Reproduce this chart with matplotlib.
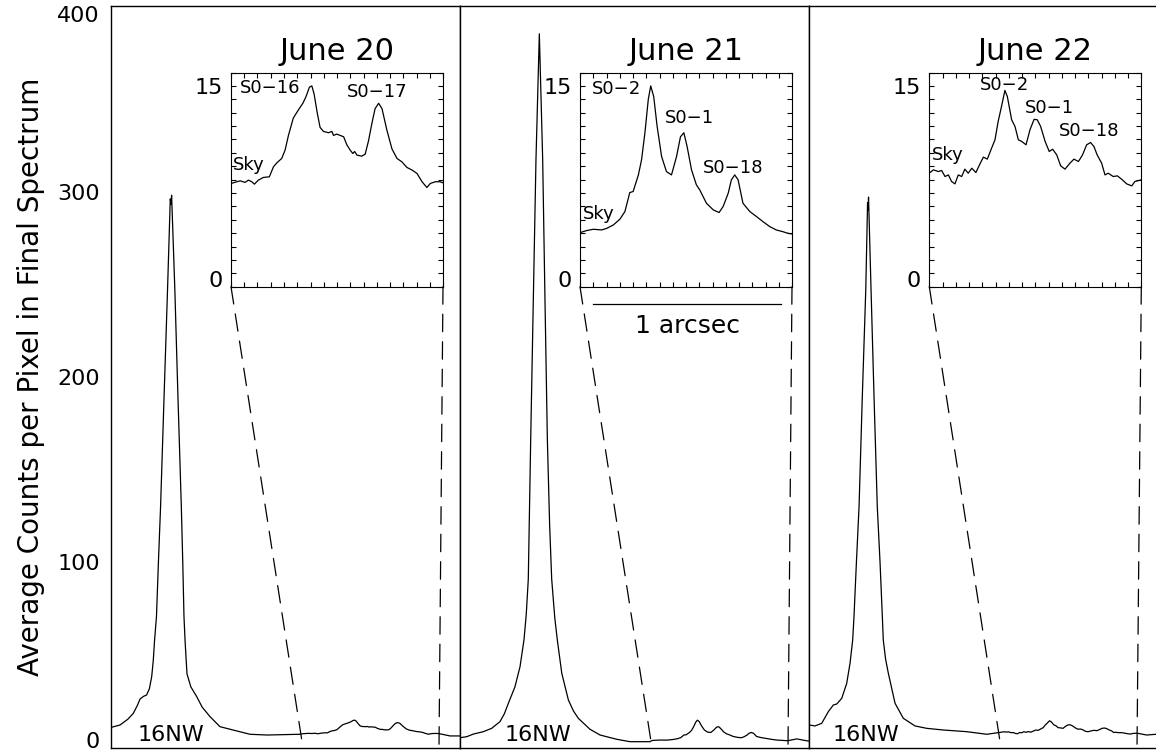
import numpy as np
import matplotlib.pyplot as plt
from matplotlib.patches import ConnectionPatch
from matplotlib.ticker import MultipleLocator

# Slit profiles along the 16NW direction, three nights (x in arcsec, counts per pixel)
nights = ['June 20', 'June 21', 'June 22']

# June 20
core_x_20 = [0.006, 0.075, 0.140, 0.186, 0.220, 0.242, 0.270, 0.297, 0.320, 0.339, 0.352,
             0.363, 0.379, 0.395, 0.413, 0.442, 0.471, 0.494, 0.500, 0.505, 0.532, 0.558,
             0.586, 0.598, 0.608, 0.617, 0.625, 0.633, 0.665, 0.714, 0.760, 0.825, 0.908,
             1.017, 1.158, 1.300, 1.575]
core_y_20 = [11.2, 12.4, 15.5, 18.7, 23.0, 26.4, 27.8, 28.6, 32.0, 38.4, 47.0,
             58, 71, 100, 130, 189, 247, 296, 293, 298, 247, 189,
             130, 100, 71, 58, 49, 40, 33, 27.7, 22.0, 16.9, 11.5,
             9.7, 7.4, 7.0, 7.4]
win_x_20 = [1.600, 1.649, 1.675, 1.693, 1.711, 1.725, 1.746, 1.773, 1.805, 1.827, 1.845,
            1.871, 1.889, 1.907, 1.933, 1.960, 1.984, 2.001, 2.019, 2.032, 2.044, 2.062,
            2.076, 2.094, 2.121, 2.139, 2.148, 2.165, 2.202, 2.219, 2.237, 2.251, 2.261,
            2.273, 2.299, 2.317, 2.335, 2.353, 2.370, 2.389, 2.407, 2.433, 2.460, 2.487,
            2.513, 2.540, 2.568, 2.594, 2.621, 2.647, 2.665, 2.692, 2.718, 2.733]
win_y_20 = [7.71, 7.91, 7.79, 7.96, 7.84, 7.66, 7.96, 8.16, 8.21, 8.96, 9.25,
            9.58, 10.2, 11.3, 12.6, 13.2, 13.7, 14.2, 14.9, 15.0, 14.4, 12.9,
            11.9, 11.6, 11.5, 11.6, 11.3, 11.4, 11.2, 10.6, 10.2, 9.95, 10.1,
            9.83, 9.75, 9.9, 10.9, 12.2, 13.3, 13.7, 13.3, 11.7, 10.3, 9.58,
            9.33, 8.91, 8.71, 8.46, 7.84, 7.41, 7.71, 7.84, 7.84, 7.76]
tail_x_20 = [2.825, 2.908]
tail_y_20 = [6.5, 6.5]

# June 21
core_x_21 = [0.006, 0.056, 0.111, 0.194, 0.264, 0.333, 0.370, 0.403, 0.458, 0.500, 0.533,
             0.552, 0.569, 0.589, 0.611, 0.633, 0.661, 0.689, 0.708, 0.728, 0.747, 0.764,
             0.790, 0.811, 0.848, 0.903, 0.945, 0.986, 1.083, 1.167, 1.306, 1.417, 1.583]
core_y_21 = [5.6, 6.1, 7.5, 8.8, 10.6, 14.2, 18.5, 24.1, 33, 43.8, 58.2,
             72, 91, 166, 242, 317, 385, 317, 242, 166, 120, 91,
             70, 58.2, 40.3, 25.9, 20.0, 16, 10.1, 7.0, 4.7, 3.4, 3.4]
win_x_21 = [1.600, 1.635, 1.671, 1.716, 1.743, 1.778, 1.813, 1.840, 1.866, 1.884, 1.912,
            1.929, 1.947, 1.965, 1.978, 1.994, 2.012, 2.036, 2.062, 2.089, 2.116, 2.137,
            2.155, 2.172, 2.196, 2.222, 2.240, 2.276, 2.312, 2.343, 2.365, 2.392, 2.409,
            2.427, 2.445, 2.471, 2.508, 2.543, 2.578, 2.614, 2.649, 2.684, 2.711, 2.733]
win_y_21 = [4.04, 4.19, 4.29, 4.24, 4.36, 4.61, 5.04, 5.61, 7.03, 7.11, 8.35,
            9.48, 11.5, 14.0, 15.0, 14.2, 12.0, 9.73, 8.6, 8.35, 9.73, 11.2,
            11.5, 10.5, 8.73, 7.61, 7.23, 6.23, 5.74, 5.54, 5.99, 6.98, 7.98,
            8.35, 7.98, 6.23, 5.61, 5.24, 4.86, 4.49, 4.24, 4.11, 3.99, 3.94]
tail_x_21 = [2.806, 2.889, 2.908]
tail_y_21 = [4.9, 3.9, 3.7]

# June 22
core_x_22 = [0.0, 0.050, 0.106, 0.161, 0.203, 0.231, 0.273, 0.314, 0.342, 0.364, 0.375,
             0.395, 0.417, 0.444, 0.473, 0.488, 0.492, 0.496, 0.517, 0.542, 0.569, 0.592,
             0.611, 0.619, 0.638, 0.661, 0.717, 0.786, 0.883, 0.981, 1.119, 1.314, 1.481]
core_y_22 = [12.4, 11.9, 13.3, 19.6, 23.2, 23.7, 26.8, 34.8, 45.7, 58.2, 71,
             100, 130, 189, 247, 294, 290, 297, 247, 189, 130, 100,
             71, 58.2, 48, 40.3, 24.1, 16, 11.9, 10.6, 9.7, 8.8, 7.4]
win_x_22 = [1.600, 1.622, 1.648, 1.666, 1.684, 1.702, 1.719, 1.737, 1.755, 1.773, 1.790,
            1.808, 1.827, 1.849, 1.871, 1.889, 1.910, 1.933, 1.951, 1.968, 1.986, 2.004,
            2.017, 2.040, 2.058, 2.076, 2.094, 2.117, 2.138, 2.160, 2.177, 2.195, 2.219,
            2.241, 2.259, 2.281, 2.302, 2.325, 2.352, 2.373, 2.397, 2.419, 2.441, 2.462,
            2.480, 2.497, 2.521, 2.539, 2.556, 2.583, 2.605, 2.628, 2.655, 2.682, 2.699,
            2.733]
win_y_22 = [8.48, 8.73, 8.6, 8.68, 8.23, 8.35, 7.86, 7.68, 8.35, 8.23, 8.78,
            8.48, 8.85, 8.53, 9.18, 9.68, 9.53, 10.35, 10.97, 12.34, 13.47, 14.66,
            14.21, 12.47, 11.97, 10.97, 10.85, 10.6, 11.72, 12.5, 12.47, 11.97, 10.85,
            10.1, 10.27, 9.85, 9.03, 8.78, 9.23, 9.53, 9.35, 9.85, 10.6, 10.77,
            10.47, 9.85, 9.23, 8.35, 8.48, 8.23, 8.28, 8.03, 7.68, 7.53, 7.86,
            7.98]
tail_x_22 = [2.814, 2.892]
tail_y_22 = [7.0, 7.4]

# Star labels inside each zoom window: (text, x, y)
labels_20 = [('S0−16', 1.648, 14.83), ('S0−17', 2.221, 14.53), ('Sky', 1.611, 9.08)]
labels_21 = [('S0−2', 1.664, 14.75), ('S0−1', 2.053, 12.59), ('S0−18', 2.256, 8.86),
             ('Sky', 1.616, 5.43)]
labels_22 = [('S0−2', 1.871, 15.05), ('S0−1', 2.111, 13.34), ('S0−18', 2.293, 11.62),
             ('Sky', 1.614, 9.83)]

peak_x = [0.502, 0.646, 0.471]

panels = [
    (core_x_20, core_y_20, win_x_20, win_y_20, tail_x_20, tail_y_20, labels_20),
    (core_x_21, core_y_21, win_x_21, win_y_21, tail_x_21, tail_y_21, labels_21),
    (core_x_22, core_y_22, win_x_22, win_y_22, tail_x_22, tail_y_22, labels_22),
]

win_lo, win_hi = 1.6, 2.733
W, H = 1156, 752
fig = plt.figure(figsize=(W / 100, H / 100), dpi=100)


def axes_px(x0, y0, x1, y1):
    return fig.add_axes([x0 / W, 1 - y1 / H, (x1 - x0) / W, (y1 - y0) / H])


main_left = [111, 460, 809]
inset_left = [231, 580, 929.3]
lw = 0.9

for i, (cx, cy, wx, wy, tx, ty, labels) in enumerate(panels):
    x = np.concatenate([cx, wx, tx])
    y = np.concatenate([cy, wy, ty])

    ax = axes_px(main_left[i], 6, main_left[i] + 349, 748)
    ax.plot(x, y, color='black', lw=lw)
    ax.set_xlim(0, 2.908)
    ax.set_ylim(0, 400)
    ax.set_xticks([])
    ax.tick_params(axis='y', length=0, pad=8, labelsize=16)
    if i == 0:
        ax.set_yticks([0, 100, 200, 300, 400])
        ticks = ax.get_yticklabels()
        ticks[0].set_va('baseline')
        ticks[-1].set_va('top')
        ax.set_ylabel('Average Counts per Pixel in Final Spectrum', fontsize=20, labelpad=9)
    else:
        ax.set_yticks([])
    for s in ax.spines.values():
        s.set_linewidth(1.0)
    ax.text(peak_x[i], 1.5, '16NW', ha='center', va='bottom', fontsize=16)

    # zoom window on the faint stars
    ins = axes_px(inset_left[i], 72.5, inset_left[i] + 212, 286.7)
    ins.plot(wx, wy, color='black', lw=lw)
    ins.set_xlim(win_lo, win_hi)
    ins.set_ylim(0, 16)
    ins.set_xticks(np.linspace(win_lo, win_hi, 17))
    ins.set_xticklabels([])
    ins.set_yticks([0, 15])
    ins.get_yticklabels()[0].set_va('baseline')
    ins.yaxis.set_minor_locator(MultipleLocator(1))
    ins.tick_params(which='both', direction='in', top=True, right=True, length=3.5,
                    width=0.8, labelsize=16, pad=6)
    ins.text(0.5, 1.058, nights[i], transform=ins.transAxes, ha='center',
             va='baseline', fontsize=22)
    for txt, lx, ly in labels:
        ins.text(lx, ly, txt, ha='left', va='center', fontsize=13)

    # dashed guides from the window back to the full profile
    for xe in (win_lo, win_hi):
        con = ConnectionPatch(xyA=(xe, 0), coordsA=ins.transData,
                              xyB=(xe, 0), coordsB=ax.transData,
                              color='black', lw=lw, linestyle=(0, (14, 8)))
        fig.add_artist(con)

    if i == 1:
        ins.plot([1.669, 2.673], [-1.3, -1.3], color='black', lw=lw, clip_on=False)
        ins.text(2.174, -2.95, '1 arcsec', ha='center', va='center', fontsize=18)

fig.savefig('out.png', dpi=100)
